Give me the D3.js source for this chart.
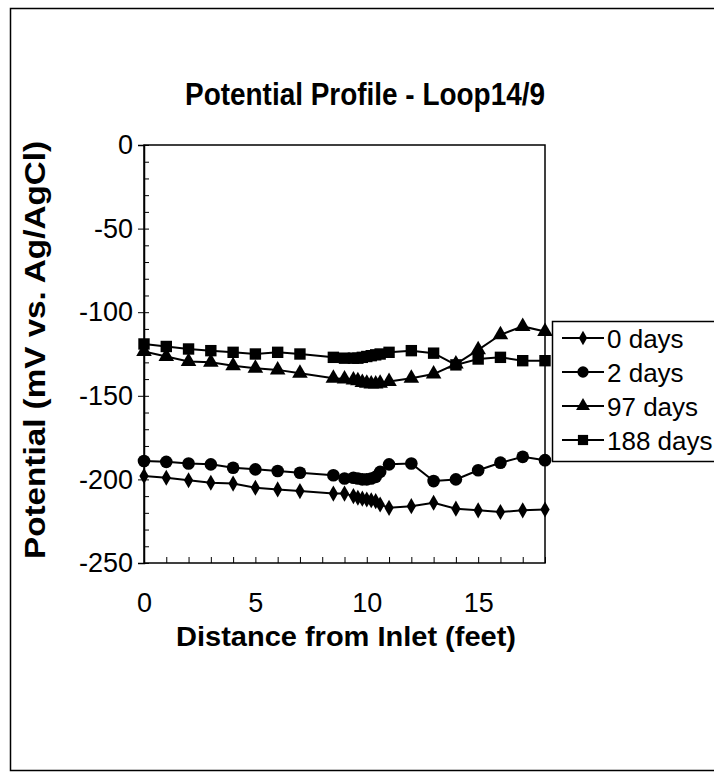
<!DOCTYPE html>
<html>
<head>
<meta charset="utf-8">
<script src="https://cdn.jsdelivr.net/npm/d3@7"></script>
<style>
	body { margin: 0; background: #fff; }
	svg text { font-family: Arial, "Liberation Sans", sans-serif; fill: #000; }
</style>
</head>
<body>
<div id="chart"></div>
<script>
// distance from inlet (feet), shared by every series
var distance = [0, 1, 2, 3, 4, 5, 6, 7, 8.5, 9, 9.4, 9.6, 9.8, 10, 10.2, 10.4, 10.6, 11, 12, 13, 14, 15, 16, 17, 18];

var days0 = [-198, -199, -200.5, -202, -202.5, -205, -206, -207, -208.5, -208.5, -210, -211, -211.5, -212, -212.5, -213, -215, -217, -216, -214, -217.5, -218.5, -219.5, -218.5, -218];
var days2 = [-189, -189.5, -190.5, -191, -193, -194, -195, -196, -197.5, -199.5, -199, -199.5, -200, -200, -199.5, -198.5, -195.5, -191, -190.5, -201, -200, -194.5, -190, -186.5, -188.5];
var days97 = [-123.5, -126.5, -129.5, -130, -132, -133.5, -134.5, -136.5, -139.5, -140, -140.5, -141, -142, -142.5, -143, -143, -142.5, -141.5, -139.5, -137, -131, -122.5, -113.5, -108.5, -111.5];
var days188 = [-119, -120.5, -122, -123, -124, -125, -124, -125, -127, -127.5, -127.5, -127.5, -127, -126.5, -126, -125.5, -125, -124, -123, -124.5, -131.5, -128, -127, -129, -129];

var seriesNames = ["0 days", "2 days", "97 days", "188 days"];
var seriesValues = [days0, days2, days97, days188];
var seriesSymbols = [d3.symbolDiamond, d3.symbolCircle, d3.symbolTriangle, d3.symbolSquare];
var symbolSizes = [75, 125, 105, 130];

var xLabelTicks = [0, 5, 10, 15];
var yLabelTicks = [0, -50, -100, -150, -200, -250];

var width = 714, height = 784;
var svg = d3.select("#chart").append("svg")
	.attr("width", width)
	.attr("height", height);

// outer frame of the page
svg.append("rect")
	.attr("x", 10.5).attr("y", 8.5)
	.attr("width", 720).attr("height", 762)
	.attr("fill", "none")
	.attr("stroke", "#000")
	.attr("stroke-width", 1.5);

svg.append("text")
	.attr("x", 365).attr("y", 105)
	.attr("text-anchor", "middle")
	.attr("textLength", 360)
	.attr("lengthAdjust", "spacingAndGlyphs")
	.style("font-size", "31px")
	.style("font-weight", "bold")
	.text("Potential Profile - Loop14/9");

var x = d3.scaleLinear().domain([0, 18]).range([144, 545]);
var y = d3.scaleLinear().domain([-250, 0]).range([563, 145]);

// plot frame
svg.append("rect")
	.attr("x", x(0)).attr("y", y(0))
	.attr("width", x(18) - x(0)).attr("height", y(-250) - y(0))
	.attr("fill", "none")
	.attr("stroke", "#000")
	.attr("stroke-width", 1.5);

// y axis : minor ticks inside, major ticks outside + labels
svg.append("g")
	.attr("transform", "translate(" + x(0) + ",0)")
	.call(d3.axisRight(y).tickValues(d3.range(-250, 1, 10)).tickSize(5).tickFormat(""))
	.call(function (g) { g.select(".domain").remove(); });

svg.append("g")
	.attr("transform", "translate(" + x(0) + ",0)")
	.call(d3.axisLeft(y).tickValues(yLabelTicks).tickSize(6).tickPadding(5)
		.tickFormat(function (d) { return String(d); }))
	.call(function (g) {
		g.select(".domain").attr("stroke-width", 1.5);
		g.selectAll("text").style("font-size", "27px");
	});

// x axis
svg.append("g")
	.attr("transform", "translate(0," + y(-250) + ")")
	.call(d3.axisBottom(x).tickValues(d3.range(0, 19, 1)).tickSize(-6).tickFormat(""))
	.call(function (g) { g.select(".domain").remove(); });

svg.append("g")
	.attr("transform", "translate(0," + y(-250) + ")")
	.call(d3.axisBottom(x).tickValues(xLabelTicks).tickSize(0).tickPadding(30))
	.call(function (g) {
		g.select(".domain").remove();
		g.selectAll("text").style("font-size", "27px");
	});

svg.append("text")
	.attr("x", 346).attr("y", 646)
	.attr("text-anchor", "middle")
	.attr("textLength", 340)
	.attr("lengthAdjust", "spacingAndGlyphs")
	.style("font-size", "28px")
	.style("font-weight", "bold")
	.text("Distance from Inlet (feet)");

svg.append("text")
	.attr("transform", "translate(45," + 350 + ") rotate(-90)")
	.attr("text-anchor", "middle")
	.attr("textLength", 418)
	.attr("lengthAdjust", "spacingAndGlyphs")
	.style("font-size", "30px")
	.style("font-weight", "bold")
	.text("Potential (mV vs. Ag/AgCl)");

var line = d3.line()
	.x(function (d) { return x(d[0]); })
	.y(function (d) { return y(d[1]); });

for (var i = 0; i < seriesValues.length; i++) {
	var pts = distance.map(function (d, k) { return [d, seriesValues[i][k]]; });
	var g = svg.append("g");
	g.append("path")
		.datum(pts)
		.attr("d", line)
		.attr("fill", "none")
		.attr("stroke", "#000")
		.attr("stroke-width", 2);
	var sym = d3.symbol().type(seriesSymbols[i]).size(symbolSizes[i]);
	g.selectAll(".pt")
		.data(pts)
		.enter().append("path")
		.attr("transform", function (d) { return "translate(" + x(d[0]) + "," + y(d[1]) + ")"; })
		.attr("d", sym)
		.attr("fill", "#000");
}

// legend
var legend = svg.append("g");
legend.append("rect")
	.attr("x", 552.5).attr("y", 321.5)
	.attr("width", 180).attr("height", 140)
	.attr("fill", "#fff")
	.attr("stroke", "#000")
	.attr("stroke-width", 1.5);

for (var j = 0; j < seriesNames.length; j++) {
	var ly = 338 + j * 34;
	legend.append("line")
		.attr("x1", 562).attr("x2", 604)
		.attr("y1", ly).attr("y2", ly)
		.attr("stroke", "#000")
		.attr("stroke-width", 2);
	legend.append("path")
		.attr("transform", "translate(583," + ly + ")")
		.attr("d", d3.symbol().type(seriesSymbols[j]).size(symbolSizes[j] * 0.8))
		.attr("fill", "#000");
	legend.append("text")
		.attr("x", 607).attr("y", ly + 10)
		.style("font-size", "26px")
		.text(seriesNames[j]);
}
</script>
</body>
</html>
